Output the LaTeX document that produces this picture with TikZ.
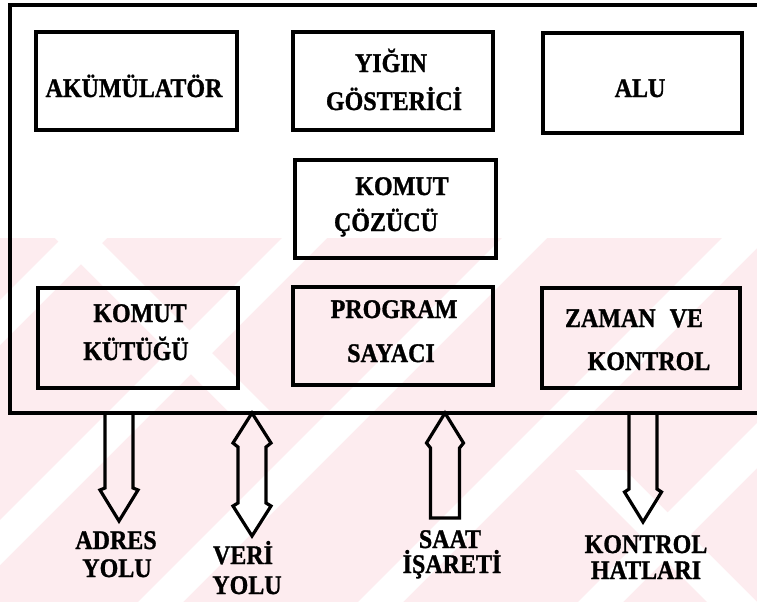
\documentclass[tikz,border=0pt]{standalone}
\usepackage{fontspec}
\setmainfont{Liberation Serif}[BoldFeatures={FakeBold=1.2}]
\usetikzlibrary{calc}
\definecolor{wmpink}{RGB}{253,236,239}
\newcommand{\vtxt}[1]{\scalebox{1}[1.12]{#1}}
\begin{document}
\begin{tikzpicture}[x=1pt,y=-1pt,
  unitbox/.style={draw=black, line width=3.5pt, inner sep=0pt},
  lbl/.style={font=\bfseries\fontsize{24}{28}\selectfont, anchor=base, inner sep=0pt},
  frameline/.style={line width=3.8pt, line cap=rect},
  busarrow/.style={line width=3.2pt, line join=miter}]
\useasboundingbox (0,0) rectangle (757,602);
% faint watermark
\begin{scope}
  \clip (0,238) rectangle (757,602);
  \fill[wmpink] (0,238) rectangle (757,602);
  \foreach \c in {300,520,740,960,1180,1400}{
    \fill[white] (\c,0) -- ({\c+45},0) -- ({\c+45-700},700) -- ({\c-700},700) -- cycle;}
  \fill[white] (55,238) -- (97,238) -- (270,411) -- (228,411) -- cycle;
  \fill[white] (575,470) -- (625,470) -- (757,602) -- (707,602) -- cycle;
\end{scope}
% outer frame (open to the right)
\coordinate (frTR) at (757,5);
\coordinate (frTL) at (10,5);
\coordinate (frBL) at (10,413);
\coordinate (frBR) at (757,413);
\draw[frameline] (frTR) -- (frTL) -- (frBL) -- (frBR);
% units
\node[unitbox, minimum width=201pt, minimum height=98pt] (acc) at (136.5,81) {};
\node[unitbox, minimum width=200pt, minimum height=98pt] (yig) at (393,81) {};
\node[unitbox, minimum width=199pt, minimum height=100pt] (alu) at (642.5,83) {};
\node[unitbox, minimum width=201pt, minimum height=98pt] (coz) at (395.5,209) {};
\node[unitbox, minimum width=200pt, minimum height=100pt] (kut) at (138,338) {};
\node[unitbox, minimum width=200pt, minimum height=98pt] (pc) at (393,336) {};
\node[unitbox, minimum width=198pt, minimum height=100pt] (zam) at (641,338) {};
% unit labels
\node[lbl] (accA) at (134,97) {\vtxt{AKÜMÜLATÖR}};
\node[lbl] (yigA) at (391,72) {\vtxt{YIĞIN}};
\node[lbl] (yigB) at (394,110) {\vtxt{GÖSTERİCİ}};
\node[lbl] (aluA) at (640,97) {\vtxt{ALU}};
\node[lbl] (cozA) at (402,195) {\vtxt{KOMUT}};
\node[lbl] (cozB) at (386,231) {\vtxt{ÇÖZÜCÜ}};
\node[lbl] (kutA) at (140,322) {\vtxt{KOMUT}};
\node[lbl] (kutB) at (136,360) {\vtxt{KÜTÜĞÜ}};
\node[lbl] (pcA) at (394,318) {\vtxt{PROGRAM}};
\node[lbl] (pcB) at (391,362) {\vtxt{SAYACI}};
\node[lbl] (zamA) at (634,327) {\vtxt{ZAMAN\hspace{14pt}VE}};
\node[lbl] (zamB) at (649,370) {\vtxt{KONTROL}};
% bus arrows
\coordinate (adrT) at (119,413);
\coordinate (adrTip) at (119,521);
\draw[busarrow] ($(adrT)+(-14,0)$) -- ($(adrT)+(-14,75)$) -- ($(adrT)+(-19,77)$) -- (adrTip)
  -- ($(adrT)+(19,77)$) -- ($(adrT)+(14,75)$) -- ($(adrT)+(14,0)$);
\coordinate (verT) at (252,413);
\coordinate (verTip) at (252,536);
\draw[busarrow] (verT) -- ($(verT)+(-19,30)$) -- ($(verT)+(-14,34)$) -- ($(verT)+(-14,90)$)
  -- ($(verT)+(-19,93)$) -- (verTip) -- ($(verT)+(19,93)$) -- ($(verT)+(14,90)$)
  -- ($(verT)+(14,34)$) -- ($(verT)+(19,30)$) -- cycle;
\coordinate (saaT) at (445,413);
\draw[busarrow] (saaT) -- ($(saaT)+(-18.5,30)$) -- ($(saaT)+(-14.5,35)$) -- ($(saaT)+(-14.5,105)$)
  -- ($(saaT)+(14.5,105)$) -- ($(saaT)+(14.5,35)$) -- ($(saaT)+(18.5,30)$) -- cycle;
\coordinate (konT) at (643,413);
\coordinate (konTip) at (643,522);
\draw[busarrow] ($(konT)+(-14,0)$) -- ($(konT)+(-14,76)$) -- ($(konT)+(-18.5,79)$) -- (konTip)
  -- ($(konT)+(18.5,79)$) -- ($(konT)+(14,76)$) -- ($(konT)+(14,0)$);
% bus labels
\node[lbl] (adrA) at (116,549) {\vtxt{ADRES}};
\node[lbl] (adrB) at (117,577) {\vtxt{YOLU}};
\node[lbl] (verA) at (243,564) {\vtxt{VERİ}};
\node[lbl] (verB) at (247,594) {\vtxt{YOLU}};
\node[lbl] (saaA) at (450,548) {\vtxt{SAAT}};
\node[lbl] (saaB) at (452,573) {\vtxt{İŞARETİ}};
\node[lbl] (konA) at (646,553) {\vtxt{KONTROL}};
\node[lbl] (konB) at (646,579) {\vtxt{HATLARI}};
\end{tikzpicture}
\end{document}
